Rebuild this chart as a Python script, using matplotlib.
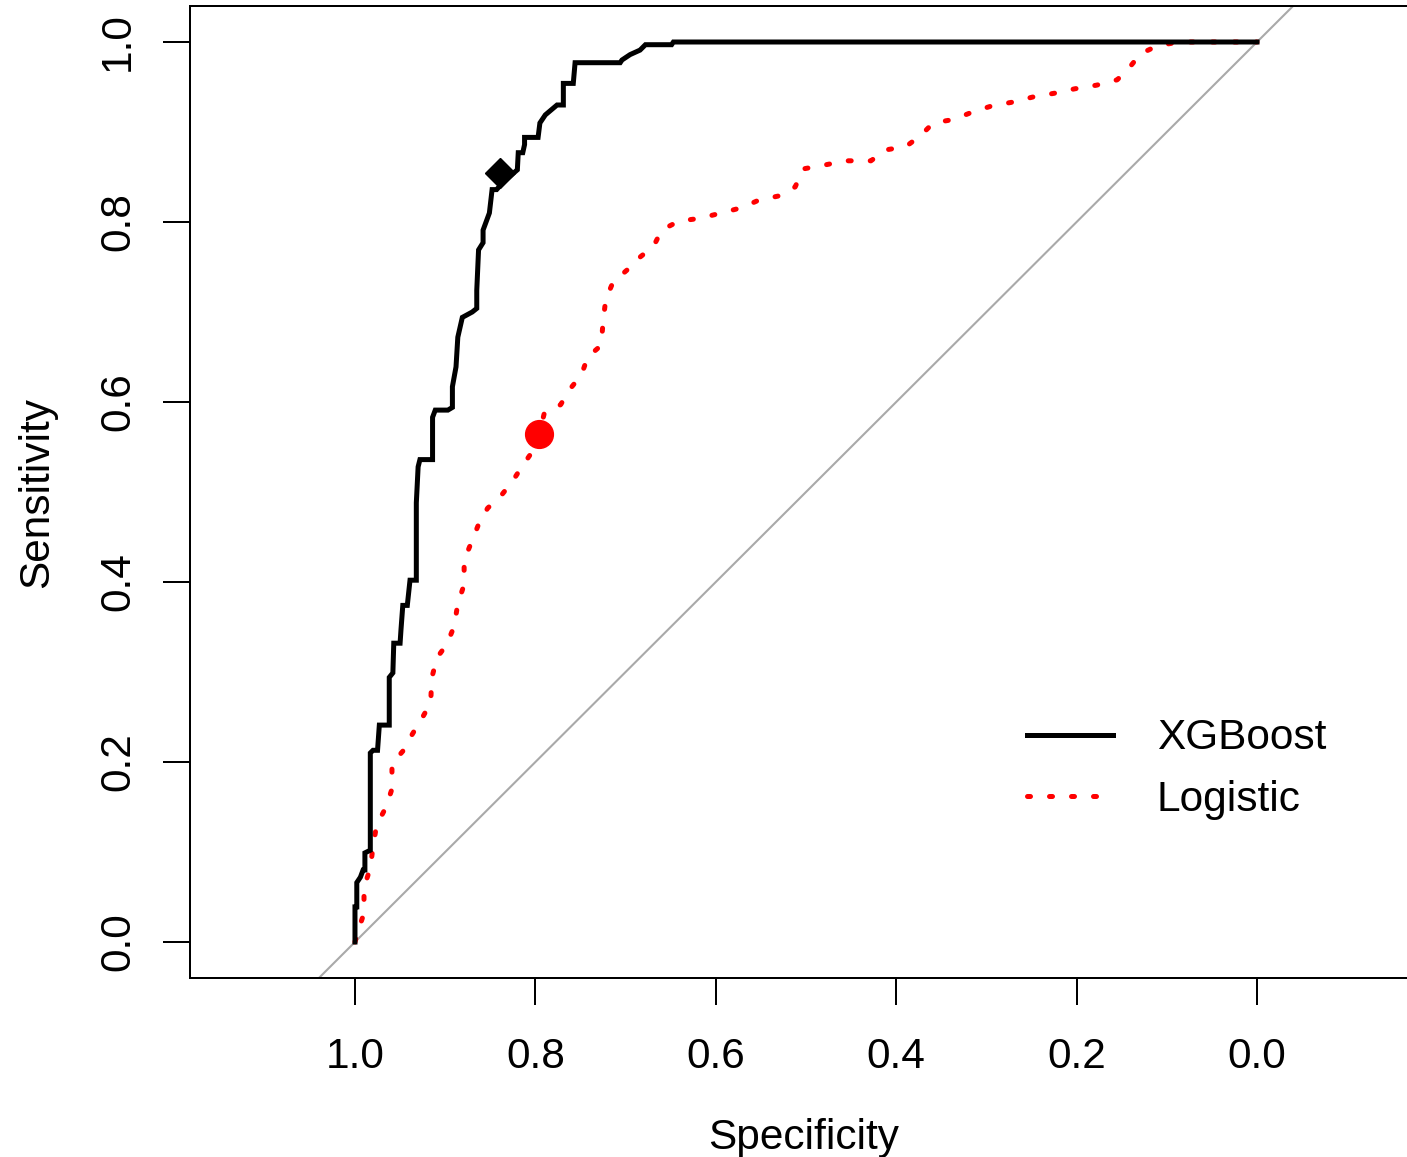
import matplotlib
matplotlib.use("Agg")
import matplotlib.pyplot as plt

plt.rcParams['font.family'] = ['Liberation Sans', 'DejaVu Sans']

# ROC curve vertices (specificity, sensitivity)
xgb_spec = [1.000, 1.000, 0.998, 0.998, 0.994, 0.991, 0.989, 0.989, 0.983, 0.983,
            0.980, 0.975, 0.973, 0.962, 0.962, 0.958, 0.957, 0.950, 0.949, 0.947,
            0.942, 0.939, 0.932, 0.932, 0.930, 0.928, 0.914, 0.914, 0.911, 0.897,
            0.892, 0.892, 0.888, 0.886, 0.881, 0.870, 0.865, 0.865, 0.863, 0.858,
            0.858, 0.851, 0.848, 0.843, 0.835, 0.820, 0.819, 0.814, 0.812, 0.812,
            0.797, 0.795, 0.789, 0.776, 0.769, 0.769, 0.758, 0.756, 0.706, 0.704,
            0.695, 0.684, 0.678, 0.649, 0.647, 0.000]
xgb_sens = [0.000, 0.039, 0.039, 0.066, 0.072, 0.080, 0.080, 0.099, 0.102, 0.210,
            0.213, 0.213, 0.241, 0.241, 0.294, 0.299, 0.332, 0.332, 0.347, 0.374,
            0.374, 0.402, 0.402, 0.488, 0.528, 0.536, 0.536, 0.583, 0.591, 0.591,
            0.594, 0.617, 0.639, 0.672, 0.694, 0.700, 0.704, 0.724, 0.769, 0.777,
            0.791, 0.810, 0.836, 0.836, 0.845, 0.858, 0.877, 0.877, 0.886, 0.894,
            0.894, 0.910, 0.919, 0.930, 0.930, 0.954, 0.954, 0.977, 0.977, 0.980,
            0.986, 0.991, 0.997, 0.997, 1.000, 1.000]

log_spec = [1.000, 0.997, 0.990, 0.990, 0.983, 0.980, 0.976, 0.966, 0.959, 0.959,
            0.947, 0.937, 0.926, 0.916, 0.915, 0.909, 0.898, 0.890, 0.886, 0.879,
            0.879, 0.871, 0.863, 0.853, 0.838, 0.826, 0.815, 0.804, 0.796, 0.790,
            0.772, 0.762, 0.749, 0.742, 0.727, 0.725, 0.722, 0.714, 0.698, 0.684,
            0.669, 0.660, 0.641, 0.618, 0.594, 0.571, 0.553, 0.530, 0.512, 0.503,
            0.481, 0.456, 0.428, 0.412, 0.389, 0.373, 0.359, 0.336, 0.316, 0.294,
            0.272, 0.248, 0.225, 0.202, 0.178, 0.155, 0.142, 0.129, 0.110, 0.086,
            0.000]
log_sens = [0.000, 0.011, 0.032, 0.061, 0.082, 0.106, 0.130, 0.149, 0.170, 0.198,
            0.212, 0.230, 0.248, 0.266, 0.293, 0.316, 0.331, 0.351, 0.376, 0.397,
            0.424, 0.444, 0.464, 0.482, 0.496, 0.511, 0.528, 0.544, 0.564, 0.588,
            0.597, 0.614, 0.630, 0.650, 0.663, 0.689, 0.714, 0.733, 0.747, 0.761,
            0.773, 0.791, 0.801, 0.804, 0.810, 0.816, 0.824, 0.829, 0.839, 0.859,
            0.863, 0.868, 0.868, 0.880, 0.884, 0.896, 0.910, 0.914, 0.922, 0.929,
            0.933, 0.939, 0.943, 0.948, 0.952, 0.958, 0.971, 0.987, 0.996, 1.000,
            1.000]

# best thresholds
xgb_best = (0.839, 0.854)
log_best = (0.796, 0.564)

ticks = [1.0, 0.8, 0.6, 0.4, 0.2, 0.0]
tick_labels = ["1.0", "0.8", "0.6", "0.4", "0.2", "0.0"]
y_ticks = [0.0, 0.2, 0.4, 0.6, 0.8, 1.0]
y_tick_labels = ["0.0", "0.2", "0.4", "0.6", "0.8", "1.0"]

fs = 30.5

fig = plt.figure(figsize=(14.07, 11.57), dpi=100)
ax = fig.add_axes([190 / 1407, 1 - 978 / 1157, 1220 / 1407, 972 / 1157])

# identity line
ax.axline((1, 0), (0, 1), color='#A9A9A9', lw=1.5, zorder=1)

ax.plot(xgb_spec, xgb_sens, color='black', lw=3.6, label='XGBoost',
        solid_joinstyle='miter', zorder=3)
ax.plot(log_spec, log_sens, color='red', lw=3.6, label='Logistic',
        linestyle=(0, (0.6, 3.8)), dash_capstyle='round', zorder=2)

ax.plot(*xgb_best, marker='D', ms=15, color='black', ls='none', zorder=4)
ax.plot(*log_best, marker='o', ms=20, color='red', ls='none', zorder=4)

ax.set_xlim(1.1829, -0.1696)
ax.set_ylim(-0.04, 1.04)

ax.set_xticks(ticks)
ax.set_xticklabels(tick_labels)
ax.set_yticks(y_ticks)
ax.set_yticklabels(y_tick_labels, rotation=90, va='center')

ax.tick_params(axis='both', length=19.4, width=1.44, labelsize=fs)
ax.tick_params(axis='x', pad=23)
ax.tick_params(axis='y', pad=18)

for s in ax.spines.values():
    s.set_linewidth(1.44)

ax.set_xlabel("Specificity", fontsize=fs, va='center')
ax.xaxis.set_label_coords(0.503, -0.165)
ax.set_ylabel("Sensitivity", fontsize=fs, va='center')
ax.yaxis.set_label_coords(-0.1255, 0.5)

ax.legend(loc='center left', bbox_to_anchor=(0.686, 0.215), frameon=False,
          fontsize=fs, handlelength=2.03, handletextpad=1.04,
          labelspacing=0.5, borderpad=0, borderaxespad=0)

plt.savefig("out.png", dpi=100)
